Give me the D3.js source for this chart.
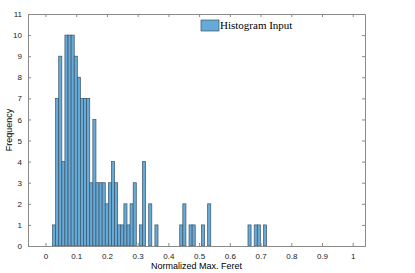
<!DOCTYPE html>
<html>
<head>
<meta charset="utf-8">
<script src="https://cdn.jsdelivr.net/npm/d3@7"></script>
<style>
  body { margin: 0; background: #fff; }
  svg { display: block; }
  .tick text { font-family: "Liberation Sans", Arial, sans-serif; font-size: 8px; fill: #222; }
</style>
</head>
<body>
<script>
// histogram counts, one per bin
var counts = [1, 7, 9, 4, 10, 10, 10, 9, 8, 7, 7, 7, 3, 6, 3, 3, 3, 2, 3, 4,
              3, 1, 1, 2, 1, 2, 3, 0, 1, 4, 0, 2, 0, 1, 0, 0, 0, 0, 0, 0,
              0, 1, 2, 0, 1, 1, 0, 0, 1, 0, 2, 0, 0, 0, 0, 0, 0, 0, 0, 0,
              0, 0, 0, 1, 0, 1, 1, 0, 1];
var binStart = 0.0228,
    binWidth = 0.0101;
var xTicks = [0, 0.1, 0.2, 0.3, 0.4, 0.5, 0.6, 0.7, 0.8, 0.9, 1];
var yTicks = [0, 1, 2, 3, 4, 5, 6, 7, 8, 9, 10, 11];

var width = 415, height = 273;
var plotLeft = 28, plotRight = 365, plotTop = 14, plotBottom = 246;

var svg = d3.select("body").append("svg")
    .attr("width", width)
    .attr("height", height);

var x = d3.scaleLinear().domain([-0.057, 1.04]).range([plotLeft, plotRight]);
var y = d3.scaleLinear().domain([0, 11]).range([plotBottom, plotTop]);

var bins = counts.map(function(c, i) {
    return { x0: binStart + i * binWidth, x1: binStart + (i + 1) * binWidth, n: c };
}).filter(function(d) { return d.n > 0; });

// bars
svg.append("g").selectAll("rect")
    .data(bins)
    .enter().append("rect")
    .attr("x", function(d) { return x(d.x0); })
    .attr("y", function(d) { return y(d.n); })
    .attr("width", function(d) { return x(d.x1) - x(d.x0); })
    .attr("height", function(d) { return y(0) - y(d.n); })
    .attr("fill", "#66aad7")
    .attr("stroke", "#3c5368")
    .attr("stroke-width", 0.7);

// axes, ticks pointing inward, mirrored on top and right
var axisColor = "#8a8a8a";
function styleAxis(g, hideText) {
    g.select(".domain").attr("stroke", axisColor);
    g.selectAll(".tick line").attr("stroke", axisColor);
    if (hideText) g.selectAll(".tick text").remove();
}

svg.append("g")
    .attr("transform", "translate(0," + plotBottom + ")")
    .call(d3.axisBottom(x).tickValues(xTicks).tickSizeInner(-3).tickSizeOuter(0).tickPadding(7)
        .tickFormat(d3.format("~g")))
    .call(styleAxis);

svg.append("g")
    .attr("transform", "translate(0," + plotTop + ")")
    .call(d3.axisTop(x).tickValues(xTicks).tickSizeInner(-3).tickSizeOuter(0))
    .call(styleAxis, true);

svg.append("g")
    .attr("transform", "translate(" + plotLeft + ",0)")
    .call(d3.axisLeft(y).tickValues(yTicks).tickSizeInner(-3).tickSizeOuter(0).tickPadding(6))
    .call(styleAxis);

svg.append("g")
    .attr("transform", "translate(" + plotRight + ",0)")
    .call(d3.axisRight(y).tickValues(yTicks).tickSizeInner(-3).tickSizeOuter(0))
    .call(styleAxis, true);

// axis titles
svg.append("text")
    .attr("x", (plotLeft + plotRight) / 2)
    .attr("y", 269)
    .attr("text-anchor", "middle")
    .style("font-family", "'Liberation Sans', Arial, sans-serif")
    .style("font-size", "9px")
    .text("Normalized Max. Feret");

svg.append("text")
    .attr("transform", "translate(12," + (plotTop + plotBottom) / 2 + ") rotate(-90)")
    .attr("text-anchor", "middle")
    .style("font-family", "'Liberation Sans', Arial, sans-serif")
    .style("font-size", "9px")
    .text("Frequency");

// legend
svg.append("rect")
    .attr("x", 201).attr("y", 20)
    .attr("width", 18).attr("height", 11)
    .attr("fill", "#66aad7")
    .attr("stroke", "#3c5368")
    .attr("stroke-width", 0.7);

svg.append("text")
    .attr("x", 220)
    .attr("y", 29)
    .style("font-family", "'Liberation Serif', 'DejaVu Serif', serif")
    .style("font-size", "11px")
    .text("Histogram Input");
</script>
</body>
</html>
